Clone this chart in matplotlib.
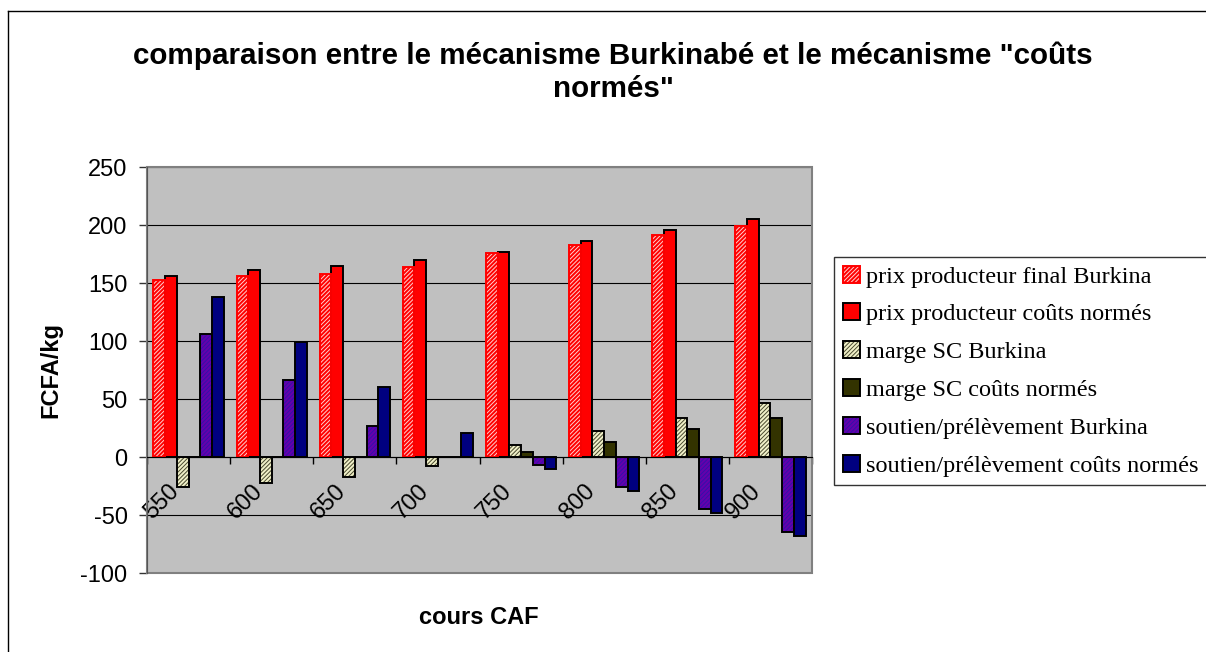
import matplotlib
matplotlib.use("Agg")
from matplotlib import pyplot as plt
from matplotlib.patches import Rectangle
from matplotlib.lines import Line2D
from matplotlib.legend_handler import HandlerTuple
from matplotlib.transforms import ScaledTranslation
import numpy as np

plt.rcParams['font.family'] = ['Liberation Sans', 'DejaVu Sans']
plt.rcParams['hatch.linewidth'] = 0.7
plt.rcParams['axes.unicode_minus'] = False

# Data (FCFA/kg)
cours = ['550', '600', '650', '700', '750', '800', '850', '900']
prix_final_bf = [153, 156, 158, 164, 176, 183, 191, 199]
prix_couts_normes = [156, 161, 165, 170, 177, 186, 196, 205]
marge_sc_bf = [-26, -22, -17, -7.5, 10.5, 22.5, 34, 46.5]
marge_sc_cn = [0, 0, 0, 0, 4, 13, 24, 33.5]
soutien_bf = [106, 66, 26.5, 0, -6.5, -25.5, -44.5, -65]
soutien_cn = [138, 99, 60, 20.5, -10, -29, -48.5, -68]

labels = ['prix producteur final Burkina', 'prix producteur coûts normés',
          'marge SC Burkina', 'marge SC coûts normés',
          'soutien/prélèvement Burkina', 'soutien/prélèvement coûts normés']
series = [prix_final_bf, prix_couts_normes, marge_sc_bf, marge_sc_cn, soutien_bf, soutien_cn]
# (face, hatch colour, hatch, edge)
styles = [('#FF0000', '#FFD0D0', '////////', '#FF0000'),
          ('#FF0000', None, None, '#000000'),
          ('#F0F0C8', '#4A4A30', '////////', '#000000'),
          ('#333300', None, None, '#000000'),
          ('#6600AA', '#3311AA', '////////', '#000000'),
          ('#000080', None, None, '#000000')]

W, H = 1206, 652
fig = plt.figure(figsize=(W / 100, H / 100), dpi=100)
ax = fig.add_axes([147 / W, 1 - 573 / H, (812 - 147) / W, (573 - 167) / H])
ax.set_facecolor('#C0C0C0')

x = np.arange(len(cours))
w = 0.141
handles = []
for i, (vals, st) in enumerate(zip(series, styles)):
    face, hcol, hatch, edge = st
    pos = x + (i - 2.5) * w
    if hatch:
        ax.bar(pos, vals, w, color=face, edgecolor=hcol, hatch=hatch, linewidth=0, zorder=3)
        ax.bar(pos, vals, w, fill=False, edgecolor=edge, linewidth=1.4, zorder=4)
        h = (Rectangle((0, 0), 1, 1, facecolor=face, edgecolor=hcol, hatch=hatch, linewidth=0),
             Rectangle((0, 0), 1, 1, fill=False, edgecolor=edge, linewidth=1.4))
    else:
        ax.bar(pos, vals, w, color=face, edgecolor=edge, linewidth=1.4, zorder=3)
        h = Rectangle((0, 0), 1, 1, facecolor=face, edgecolor=edge, linewidth=1.4)
    handles.append(h)

ax.set_xlim(-0.5, len(cours) - 0.5)
ax.set_ylim(-100, 250)
ax.set_yticks(np.arange(-100, 251, 50))
ax.yaxis.grid(True, color='black', linewidth=0.8)
ax.set_axisbelow(True)
ax.tick_params(axis='y', labelsize=17, length=6, width=1, color='#333333', pad=8)

ax.spines['bottom'].set_position(('data', 0))
ax.spines['bottom'].set_color('black')
ax.spines['bottom'].set_zorder(5)
for s in ['top', 'right']:
    ax.spines[s].set_visible(False)
ax.spines['left'].set_color('#555555')
ax.add_patch(Rectangle((0, 0), 1, 1, transform=ax.transAxes, fill=False,
                       edgecolor='#808080', linewidth=1.5, clip_on=False, zorder=1))

ax.set_xticks(x, cours, rotation=45, ha='right', va='center', rotation_mode='anchor', fontsize=17)
ax.set_xticks(np.arange(len(cours) + 1) - 0.5, minor=True)
ax.tick_params(axis='x', which='major', length=0, pad=22)
ax.tick_params(axis='x', which='minor', length=5, width=1, direction='out')
for lab in ax.get_xticklabels():
    lab.set_transform(lab.get_transform() + ScaledTranslation(-9 / 72, 0, fig.dpi_scale_trans))

fig.text(613 / W, 1 - 72 / H,
         'comparaison entre le mécanisme Burkinabé et le mécanisme "coûts\nnormés"',
         ha='center', va='center', fontsize=21.3, fontweight='bold', linespacing=1.25)
fig.text(51 / W, 1 - 370 / H, 'FCFA/kg', rotation=90, ha='center', va='center',
         fontsize=17, fontweight='bold')
fig.text(479 / W, 1 - 617 / H, 'cours CAF', ha='center', va='center',
         fontsize=17, fontweight='bold')

leg = fig.legend(handles, labels, loc='upper left', bbox_to_anchor=(834 / W, 1 - 257 / H),
                 bbox_transform=fig.transFigure, borderaxespad=0, frameon=True, fancybox=False,
                 edgecolor='black', handler_map={tuple: HandlerTuple(ndivide=1, pad=0)},
                 prop={'family': 'Liberation Serif', 'size': 17.5},
                 handlelength=0.7, handleheight=0.7, handletextpad=0.25,
                 labelspacing=0.65, borderpad=0.35)
leg.get_frame().set_linewidth(1)

# chart frame
fig.add_artist(Line2D([8 / W, 8 / W], [0, 1 - 11 / H], transform=fig.transFigure, color='black', lw=1))
fig.add_artist(Line2D([8 / W, 1], [1 - 11 / H, 1 - 11 / H], transform=fig.transFigure, color='black', lw=1))

fig.savefig('out.png', dpi=100)
